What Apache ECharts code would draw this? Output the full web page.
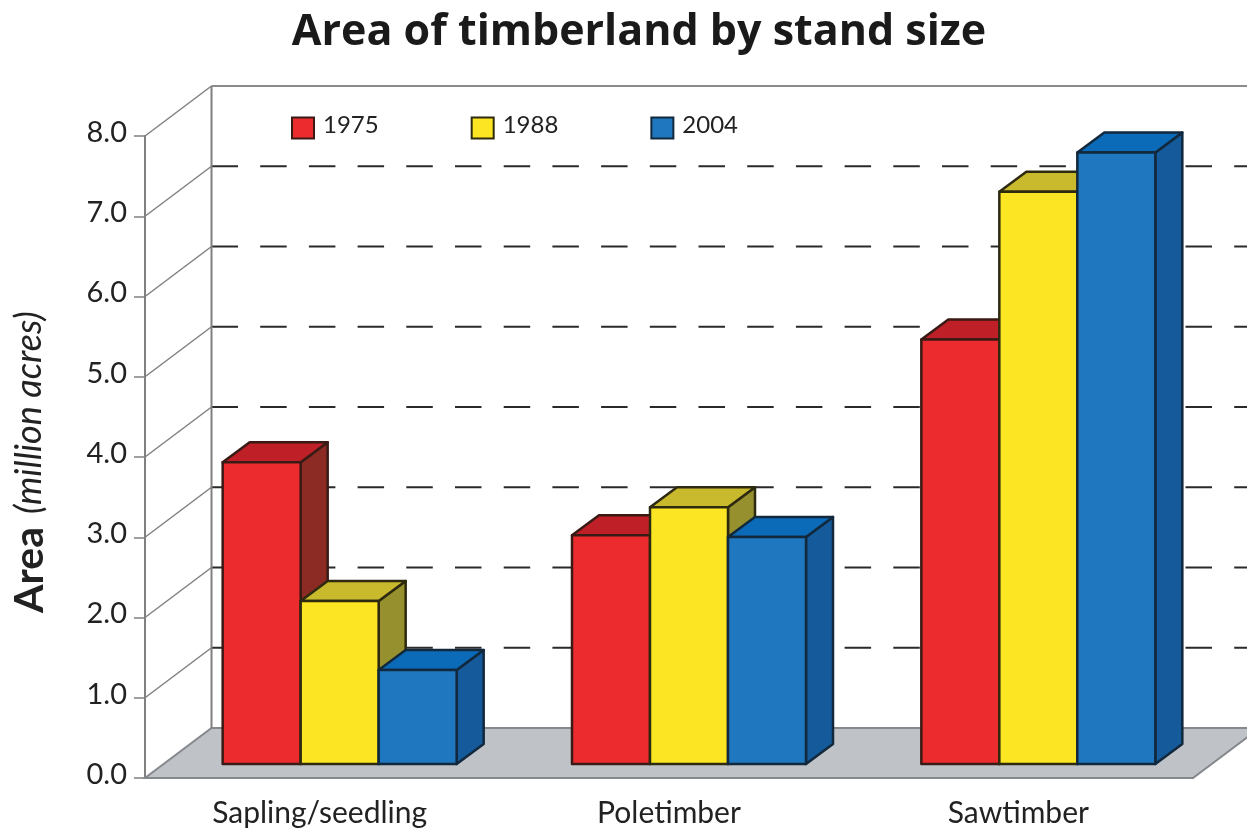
<!DOCTYPE html>
<html>
<head>
<meta charset="utf-8">
<title>Area of timberland by stand size</title>
<script src="https://cdn.jsdelivr.net/npm/echarts@6/dist/echarts.min.js"></script>
<style>
  html, body { margin: 0; padding: 0; background: #fff; }
  #chart { width: 1247px; height: 832px; }
</style>
</head>
<body>
<div id="chart"></div>
<script>
var categories = ['Sapling/seedling', 'Poletimber', 'Sawtimber'];
var years = ['1975', '1988', '2004'];
var values1975 = [3.76, 2.85, 5.29];
var values1988 = [2.03, 3.2, 7.13];
var values2004 = [1.17, 2.83, 7.62];
var yTicks = [0, 1, 2, 3, 4, 5, 6, 7, 8];

var frontColors = ['#ec2b2e', '#fce623', '#1f78bf'];
var topColors = ['#bf2027', '#c9b92c', '#0b6bb8'];
var sideColors = ['#8c2a24', '#96902e', '#155a9a'];
var edgeColors = ['#3a1a14', '#2e2a10', '#12283c'];

// depth of the box drawn around the plot, in pixels
var wallDx = 66.5, wallDy = -50;
// bars stand a bit inside the floor
var barShiftX = 20, barShiftY = -14;
var barW = 78, barDx = 27, barDy = -20;

var myChart = echarts.init(document.getElementById('chart'));

function poly(points, fill, stroke) {
    return {
        type: 'polygon',
        shape: { points: points },
        style: { fill: fill, stroke: stroke, lineWidth: 2.5, lineJoin: 'round' }
    };
}

function renderFrame(params, api) {
    var v = api.value(1);
    var left = params.coordSys.x;
    var right = left + params.coordSys.width;
    var y = api.coord([0, v])[1];
    var backX = left + wallDx, backY = y + wallDy;
    var kids = [];
    if (v === 0) {
        kids.push({
            type: 'polygon',
            shape: { points: [[left, y], [right, y], [right + wallDx, backY], [backX, backY]] },
            style: { fill: '#bfc3c8', stroke: '#85888c', lineWidth: 2 }
        });
    } else {
        kids.push({
            type: 'line',
            shape: { x1: left, y1: y, x2: backX, y2: backY },
            style: { stroke: '#808080', lineWidth: 1.5 }
        });
        if (v === yTicks[yTicks.length - 1]) {
            kids.push({
                type: 'line',
                shape: { x1: backX, y1: backY, x2: 1247, y2: backY },
                style: { stroke: '#8c8c8c', lineWidth: 2 }
            });
            kids.push({
                type: 'line',
                shape: { x1: backX, y1: backY, x2: backX, y2: api.coord([0, 0])[1] + wallDy },
                style: { stroke: '#808080', lineWidth: 2 }
            });
        } else {
            kids.push({
                type: 'line',
                shape: { x1: backX, y1: backY, x2: 1247, y2: backY },
                style: { stroke: '#2a2a2a', lineWidth: 2, lineDash: [26.5, 22.2] }
            });
        }
    }
    return { type: 'group', children: kids };
}

function makeBar(idx) {
    return function (params, api) {
        var center = api.coord([api.value(0), 0]);
        var topY = api.coord([api.value(0), api.value(1)])[1] + barShiftY;
        var baseY = center[1] + barShiftY;
        var x0 = center[0] + barShiftX + (idx - 1.5) * barW;
        var x1 = x0 + barW;
        var edge = edgeColors[idx];
        return {
            type: 'group',
            children: [
                poly([[x1, topY], [x1 + barDx, topY + barDy], [x1 + barDx, baseY + barDy], [x1, baseY]], sideColors[idx], edge),
                poly([[x0, topY], [x0 + barDx, topY + barDy], [x1 + barDx, topY + barDy], [x1, topY]], topColors[idx], edge),
                poly([[x0, topY], [x1, topY], [x1, baseY], [x0, baseY]], frontColors[idx], edge)
            ]
        };
    };
}

function toPairs(arr) {
    return arr.map(function (v, i) { return [i, v]; });
}

var seriesValues = [values1975, values1988, values2004];
var series = [{
    name: 'frame',
    type: 'custom',
    silent: true,
    clip: false,
    z: 1,
    renderItem: renderFrame,
    data: yTicks.map(function (v) { return [0, v]; })
}];
years.forEach(function (year, i) {
    series.push({
        name: year,
        type: 'custom',
        clip: false,
        z: 3 + i,
        renderItem: makeBar(i),
        itemStyle: { color: frontColors[i], borderColor: edgeColors[i], borderWidth: 2 },
        data: toPairs(seriesValues[i])
    });
});

var option = {
    backgroundColor: '#fff',
    animation: false,
    title: {
        text: 'Area of timberland by stand size',
        left: 634,
        top: 6,
        textAlign: 'center',
        textStyle: {
            fontFamily: 'Open Sans',
            fontWeight: 'bold',
            fontSize: 43,
            color: '#1a1a1a'
        }
    },
    legend: {
        data: years,
        left: 291,
        top: 113,
        padding: 0,
        itemWidth: 22,
        itemHeight: 21,
        itemGap: 92,
        icon: 'rect',
        formatter: '{t|{name}}',
        textStyle: {
            rich: {
                t: { fontFamily: 'Lato', fontSize: 24, color: '#222', padding: [0, 0, 6, 4] }
            }
        }
    },
    grid: { left: 145, top: 136, width: 1048, height: 642 },
    xAxis: {
        type: 'category',
        data: categories,
        axisLine: { lineStyle: { color: '#85888c', width: 2 } },
        axisTick: { show: false },
        axisLabel: { fontFamily: 'Lato', fontSize: 30, color: '#222', margin: 20 }
    },
    yAxis: {
        type: 'value',
        min: 0,
        max: 8,
        interval: 1,
        name: '{b|Area}{i|(million acres)}',
        nameLocation: 'middle',
        nameRotate: 90,
        nameGap: 95,
        nameTextStyle: {
            rich: {
                b: { fontFamily: 'Lato', fontWeight: 'bold', fontSize: 41, color: '#222' },
                i: { fontFamily: 'Lato', fontStyle: 'italic', fontSize: 36, color: '#222', padding: [0, 10, 0, 13] }
            }
        },
        splitLine: { show: false },
        axisLine: { show: true, lineStyle: { color: '#808080', width: 2 } },
        axisTick: { show: true, length: 11, lineStyle: { color: '#808080', width: 1.5 } },
        axisLabel: {
            margin: 18,
            formatter: function (v) { return '{n|' + v.toFixed(1) + '}'; },
            rich: {
                n: { fontFamily: 'Lato', fontSize: 29, color: '#222', padding: [0, 0, 7, 0] }
            }
        }
    },
    series: series
};
myChart.setOption(option);
</script>
</body>
</html>
